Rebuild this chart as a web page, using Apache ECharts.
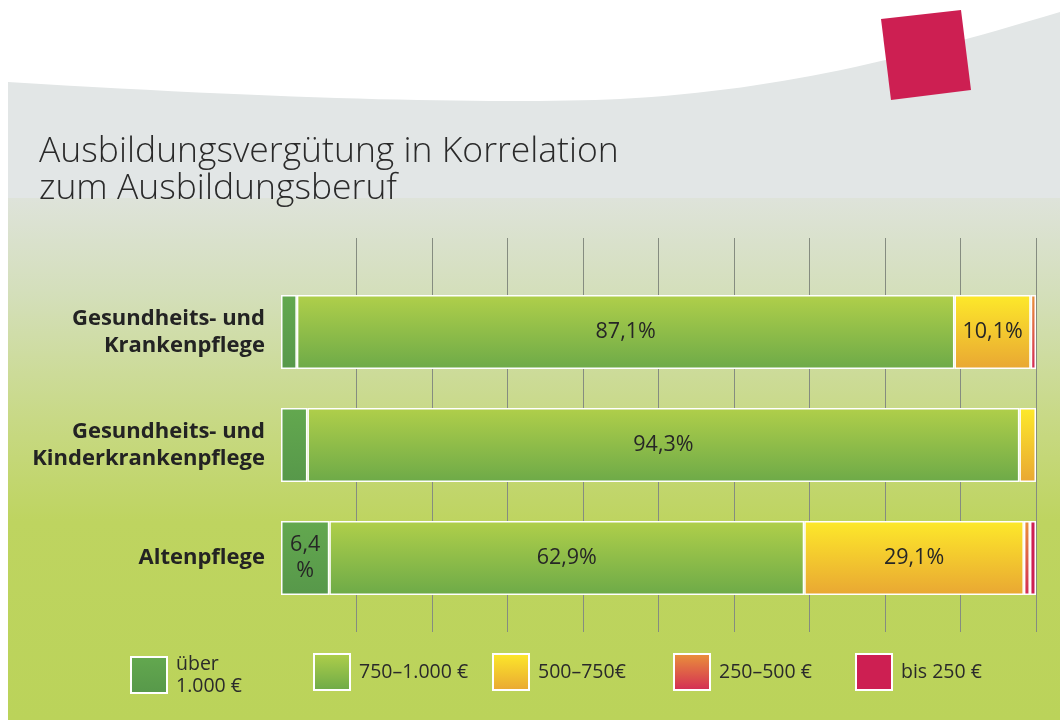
<!DOCTYPE html>
<html>
<head>
<meta charset="utf-8">
<script src="https://cdn.jsdelivr.net/npm/echarts@6/dist/echarts.min.js"></script>
<style>html,body{margin:0;padding:0;background:#fff;}#c{width:1060px;height:720px;}</style>
</head>
<body>
<div id="c"></div>
<script>
// ---- data ----
var categories = ['Gesundheits- und\nKrankenpflege', 'Gesundheits- und\nKinderkrankenpflege', 'Altenpflege'];
var seriesNames = ['über 1.000 €', '750–1.000 €', '500–750€', '250–500 €', 'bis 250 €'];
var ueber1000 = [2.1, 3.5, 6.4];
var v750to1000 = [87.1, 94.3, 62.9];
var v500to750 = [10.1, 2.2, 29.1];
var v250to500 = [0.7, 0, 0.8];
var bis250 = [0, 0, 0.8];
var axisTicks = [0, 10, 20, 30, 40, 50, 60, 70, 80, 90, 100];

// ---- styles ----
function vgrad(a, b) {
  return { type: 'linear', x: 0, y: 0, x2: 0, y2: 1, colorStops: [{ offset: 0, color: a }, { offset: 1, color: b }] };
}
var colors = [
  vgrad('#63a84f', '#57984a'),
  vgrad('#b0cf4a', '#6daa48'),
  vgrad('#fde92a', '#e9a733'),
  vgrad('#ea933a', '#d32b55'),
  '#cd1f52'
];
var allData = [ueber1000, v750to1000, v500to750, v250to500, bis250];
var legendLeft = [130, 313, 492, 673, 855];

// decorative white top area with curved lower edge
function bez(p0, p1, p2, p3, n, out) {
  for (var i = 1; i <= n; i++) {
    var t = i / n, u = 1 - t;
    out.push([
      u*u*u*p0[0] + 3*u*u*t*p1[0] + 3*u*t*t*p2[0] + t*t*t*p3[0],
      u*u*u*p0[1] + 3*u*u*t*p1[1] + 3*u*t*t*p2[1] + t*t*t*p3[1]
    ]);
  }
}
var whitePts = [[0, 0], [1060, 0], [1060, 12]];
bez([1060, 12], [900, 60], [780, 90], [620, 99], 30, whitePts);
bez([620, 99], [500, 104], [300, 100], [8, 82], 30, whitePts);
whitePts.push([8, 720], [0, 720]);

function fmt(p) {
  var v = p.value;
  if (v == null || v < 5) return '';
  var s = String(v).replace('.', ',');
  if (v < 8) return s + '\n%';
  return s + '%';
}

var series = allData.map(function (arr, i) {
  return {
    name: seriesNames[i],
    type: 'bar',
    stack: 'total',
    xAxisIndex: 1,
    yAxisIndex: 1,
    barWidth: 74,
    data: arr.map(function (v) { return v === 0 ? null : v; }),
    itemStyle: { color: colors[i], borderColor: '#ffffff', borderWidth: 1.5 },
    label: {
      show: true, position: 'inside', formatter: fmt,
      fontFamily: 'Open Sans', fontSize: 21.5, color: '#262626', lineHeight: 26
    },
    emphasis: { disabled: true }
  };
});

var legends = seriesNames.map(function (n, i) {
  return {
    data: [n],
    left: legendLeft[i],
    top: 653,
    orient: 'horizontal',
    icon: 'rect',
    itemWidth: 36,
    itemHeight: 36,
    itemGap: 0,
    selectedMode: false,
    padding: 0,
    formatter: function (name) { return name === 'über 1.000 €' ? 'über\n1.000 €' : name; },
    textStyle: { fontFamily: 'Open Sans', fontSize: 19.5, color: '#2a2a2a', lineHeight: 22, padding: [0, 0, 0, 4] },
    itemStyle: { borderColor: '#ffffff', borderWidth: 2 }
  };
});

var chart = echarts.init(document.getElementById('c'), null, { renderer: 'canvas' });
chart.setOption({
  animation: false,
  backgroundColor: '#ffffff',
  graphic: [
    { type: 'rect', z: -10, silent: true, shape: { x: 8, y: 0, width: 1052, height: 200 }, style: { fill: '#e2e6e6' } },
    { type: 'rect', z: -10, silent: true, shape: { x: 8, y: 198, width: 1052, height: 522 },
      style: { fill: { type: 'linear', x: 0, y: 0, x2: 0, y2: 1, colorStops: [
        { offset: 0, color: '#dee3da' }, { offset: 0.18, color: '#d4dfbb' }, { offset: 0.42, color: '#c8d986' },
        { offset: 0.62, color: '#bed460' }, { offset: 1, color: '#bbd35a' }] } } },
    { type: 'polygon', z: -9, silent: true, shape: { points: whitePts }, style: { fill: '#ffffff' } },
    { type: 'polygon', z: -8, silent: true,
      shape: { points: [[881, 19], [961, 10], [971, 90], [891, 100]] }, style: { fill: '#cd1f52' } }
  ],
  title: {
    text: 'Ausbildungsvergütung in Korrelation\nzum Ausbildungsberuf',
    left: 34, top: 128,
    textStyle: { fontFamily: 'Open Sans', fontWeight: 300, fontSize: 35.5, lineHeight: 37, color: '#2a2a2a' }
  },
  legend: legends,
  grid: [
    { left: 281, right: 24, top: 238, height: 394 },
    { left: 281, right: 24, top: 275.5, height: 339 }
  ],
  xAxis: [
    { type: 'value', gridIndex: 0, min: axisTicks[0], max: axisTicks[axisTicks.length - 1], interval: 10,
      axisLabel: { show: false }, axisLine: { show: false }, axisTick: { show: false },
      splitLine: { show: true, showMinLine: false, lineStyle: { color: '#858c80', width: 1 } } },
    { type: 'value', gridIndex: 1, min: 0, max: 100, show: false, splitLine: { show: false } }
  ],
  yAxis: [
    { type: 'category', gridIndex: 0, data: categories, show: false },
    { type: 'category', gridIndex: 1, data: categories, inverse: true,
      axisLine: { show: false }, axisTick: { show: false }, splitLine: { show: false },
      axisLabel: { margin: 16, fontFamily: 'Open Sans', fontWeight: 'bold', fontSize: 22, lineHeight: 27, color: '#232323', align: 'right' } }
  ],
  series: series
});
</script>
</body>
</html>
